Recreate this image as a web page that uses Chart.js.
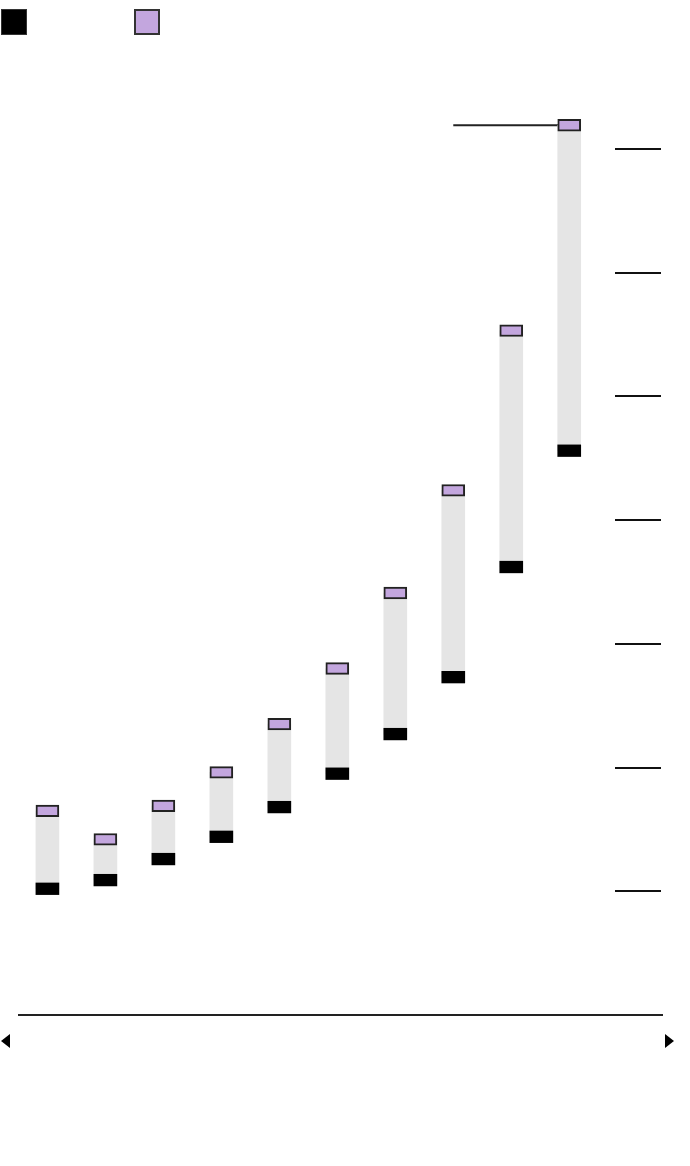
<!DOCTYPE html>
<html lang="en">
<head>
  <meta charset="UTF-8" />
  <title>Range chart</title>
  <script src="https://cdn.jsdelivr.net/npm/chart.js"></script>
  <style>
    body {
      margin: 0;
      background: #fff;
      width: 690px;
      height: 1166px;
      position: relative;
      overflow: hidden;
    }
    .legend-box {
      position: absolute;
      top: 9px;
      width: 26px;
      height: 26px;
      box-sizing: border-box;
    }
    .chart-wrap {
      position: absolute;
      top: 0;
      left: 0;
      width: 690px;
      height: 1040px;
    }
    .arrow {
      position: absolute;
      top: 1034px;
      width: 0;
      height: 0;
      border-top: 7px solid transparent;
      border-bottom: 7px solid transparent;
    }
  </style>
</head>
<body>

<div class="chart-wrap"><canvas id="rangeChart"></canvas></div>

<div class="legend-box" style="left:1px; background:#000; border:1px solid #333;"></div>
<div class="legend-box" style="left:134px; background:#c3a6de; border:2px solid #333;"></div>

<div class="arrow" style="left:1px; border-right:9px solid #000;"></div>
<div class="arrow" style="left:665px; border-left:9px solid #000;"></div>

<script>
  const positions = [0, 1, 2, 3, 4, 5, 6, 7, 8, 9];
  const lowValues = [0.2, 0.9, 2.6, 4.4, 6.8, 9.5, 12.7, 17.3, 26.2, 35.6];
  const highValues = [6.5, 4.2, 6.9, 9.6, 13.5, 18.0, 24.1, 32.4, 45.3, 61.9];
  const tickValues = [0, 10, 20, 30, 40, 50, 60];

  const markerHalf = 0.47;
  const maxHigh = Math.max(...highValues);

  // short tick marks on the right edge, placed by the y scale
  const rightTicks = {
    id: 'rightTicks',
    afterDraw(chart) {
      const ctx = chart.ctx;
      const area = chart.chartArea;
      const y = chart.scales.y;
      ctx.save();
      ctx.strokeStyle = '#111';
      ctx.lineWidth = 2;
      tickValues.forEach(v => {
        const py = Math.round(y.getPixelForValue(v));
        ctx.beginPath();
        ctx.moveTo(area.right - 47, py);
        ctx.lineTo(area.right - 1, py);
        ctx.stroke();
      });
      ctx.restore();
    }
  };

  const ctx = document.getElementById('rangeChart').getContext('2d');

  new Chart(ctx, {
    type: 'bar',
    data: {
      datasets: [
        {
          type: 'line',
          data: [{ x: 7, y: maxHigh }, { x: 9, y: maxHigh }],
          borderColor: '#222',
          borderWidth: 2,
          pointRadius: 0,
          order: 4
        },
        {
          data: positions.map((p, i) => ({ x: p, y: [lowValues[i], highValues[i]] })),
          backgroundColor: '#e5e5e5',
          borderWidth: 0,
          barThickness: 23,
          grouped: false,
          order: 3
        },
        {
          data: positions.map((p, i) => ({ x: p, y: [lowValues[i] - markerHalf, lowValues[i] + markerHalf] })),
          backgroundColor: '#000',
          borderWidth: 0,
          barThickness: 23,
          grouped: false,
          order: 2
        },
        {
          data: positions.map((p, i) => ({ x: p, y: [highValues[i] - markerHalf, highValues[i] + markerHalf] })),
          backgroundColor: '#c3a6de',
          borderColor: '#222',
          borderWidth: 2,
          borderSkipped: false,
          barThickness: 23,
          grouped: false,
          order: 1
        }
      ]
    },
    options: {
      responsive: true,
      maintainAspectRatio: false,
      animation: false,
      layout: { padding: { top: 25, left: 19, right: 28, bottom: 25 } },
      plugins: {
        legend: { display: false },
        tooltip: { enabled: false }
      },
      scales: {
        x: {
          type: 'linear',
          offset: false,
          min: -0.49,
          max: 10.6,
          grid: { display: false, drawTicks: false },
          ticks: { display: false },
          border: { display: true, color: '#222', width: 2 }
        },
        y: {
          display: false,
          min: -10,
          max: 70
        }
      }
    },
    plugins: [rightTicks]
  });
</script>

</body>
</html>
